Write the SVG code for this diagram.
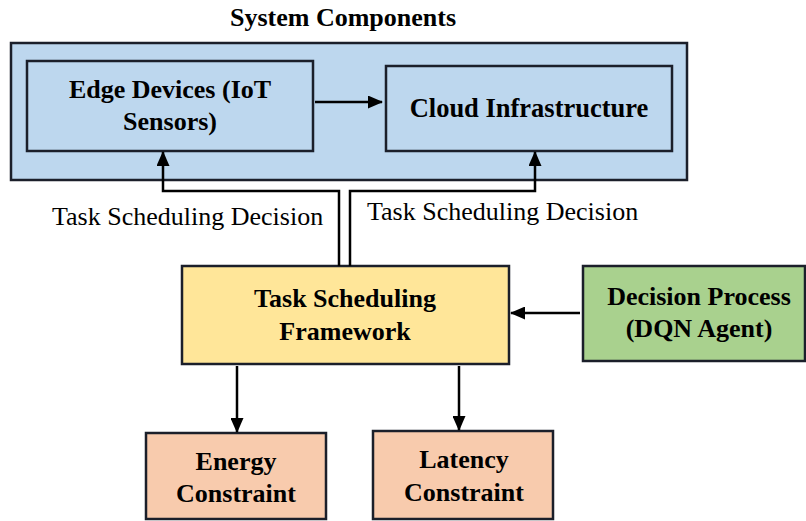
<svg xmlns="http://www.w3.org/2000/svg" width="806" height="521" viewBox="0 0 806 521">
<defs>
<style>
.box{stroke:#1b1f2a;stroke-width:2.5}
.t{font-family:"Liberation Serif","Times New Roman",serif;font-weight:bold;font-size:26px;fill:#000;text-anchor:middle}
.l{font-family:"Liberation Serif","Times New Roman",serif;font-size:26px;fill:#000}
.c{fill:none;stroke:#000;stroke-width:2.5}
</style>
<marker id="ah" markerWidth="15" markerHeight="13" refX="14" refY="6.5" orient="auto" markerUnits="userSpaceOnUse" viewBox="0 0 15 13">
<path d="M0,0 L15,6.5 L0,13 Z" fill="#000"/>
</marker>
</defs>
<rect width="806" height="521" fill="#fff"/>
<g id="system">
<rect class="box" x="11" y="43" width="676" height="137" fill="#BDD7EE"/>
<text class="t" x="343" y="26">System Components</text>
</g>
<g id="edge">
<rect class="box" x="27" y="61" width="286" height="90" fill="#BDD7EE"/>
<text class="t" x="170" y="98">Edge Devices (IoT</text>
<text class="t" x="170" y="130">Sensors)</text>
</g>
<g id="cloud">
<rect class="box" x="386" y="66" width="286" height="85" fill="#BDD7EE"/>
<text class="t" x="529" y="117" style="font-size:26.5px">Cloud Infrastructure</text>
</g>
<g id="framework">
<rect class="box" x="182" y="266" width="327" height="98" fill="#FFE699"/>
<text class="t" x="345" y="307">Task Scheduling</text>
<text class="t" x="345" y="340">Framework</text>
</g>
<g id="decision">
<rect class="box" x="583" y="266" width="222" height="95" fill="#A9D18E"/>
<text class="t" x="699" y="305">Decision Process</text>
<text class="t" x="699" y="337">(DQN Agent)</text>
</g>
<g id="energy">
<rect class="box" x="146" y="433" width="180" height="86" fill="#F8CBAD"/>
<text class="t" x="236" y="470">Energy</text>
<text class="t" x="236" y="502">Constraint</text>
</g>
<g id="latency">
<rect class="box" x="373" y="431" width="180" height="88" fill="#F8CBAD"/>
<text class="t" x="464" y="468">Latency</text>
<text class="t" x="464" y="501">Constraint</text>
</g>
<g id="connectors">
<line class="c" x1="315" y1="102" x2="382" y2="102" marker-end="url(#ah)"/>
<polyline class="c" points="339,266 339,191 163,191 163,152" marker-end="url(#ah)"/>
<polyline class="c" points="350,266 350,191 535,191 535,152" marker-end="url(#ah)"/>
<line class="c" x1="580" y1="313" x2="511" y2="313" marker-end="url(#ah)"/>
<line class="c" x1="237" y1="366" x2="237" y2="432" marker-end="url(#ah)"/>
<line class="c" x1="459" y1="366" x2="459" y2="430" marker-end="url(#ah)"/>
<text class="l" x="52" y="225">Task Scheduling Decision</text>
<text class="l" x="367" y="220">Task Scheduling Decision</text>
</g>
</svg>
